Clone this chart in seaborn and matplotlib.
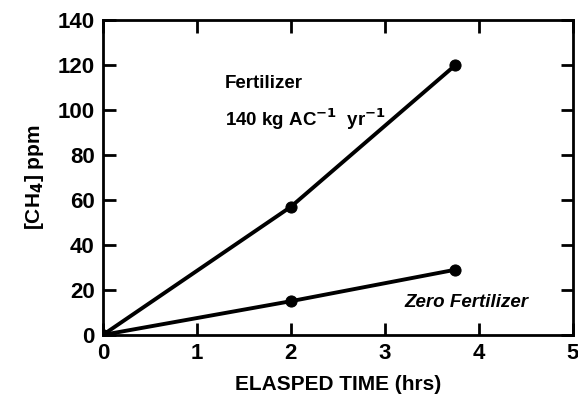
import matplotlib
matplotlib.use("Agg")
import matplotlib.pyplot as plt
import seaborn as sns
import pandas as pd

# Data
time_hrs = [0.0, 2.0, 3.75]
fertilizer_ppm = [0.0, 57.0, 120.0]
zero_fertilizer_ppm = [0.0, 15.0, 29.0]
series_names = ["Fertilizer", "Zero Fertilizer"]
x_ticks = [0, 1, 2, 3, 4, 5]
y_ticks = [0, 20, 40, 60, 80, 100, 120, 140]

df = pd.DataFrame({
    "time": time_hrs * 2,
    "ppm": fertilizer_ppm + zero_fertilizer_ppm,
    "series": [series_names[0]] * len(time_hrs) + [series_names[1]] * len(time_hrs),
})

sns.set_theme(style="ticks")
plt.rcParams["font.family"] = ["Liberation Sans", "DejaVu Sans"]
plt.rcParams["font.weight"] = "bold"
plt.rcParams["text.color"] = "black"
plt.rcParams["axes.labelcolor"] = "black"

fig = plt.figure(figsize=(5.78, 4.04), dpi=100)
ax = fig.add_axes([0.178, 0.171, 0.813, 0.779])

sns.lineplot(data=df, x="time", y="ppm", hue="series",
             palette=["black", "black"], marker="o", markersize=8,
             markeredgecolor="black", linewidth=2.8, legend=False, ax=ax)

ax.set_xlim(0, 5)
ax.set_ylim(0, 140)
ax.set_xticks(x_ticks)
ax.set_yticks(y_ticks)
ax.set_xticklabels([str(t) for t in x_ticks], fontsize=16, fontweight="bold")
ax.set_yticklabels([str(t) for t in y_ticks], fontsize=16, fontweight="bold")
ax.tick_params(direction="in", length=9, width=2, top=True, right=True,
               colors="black", labelcolor="black", pad=6)
for s in ax.spines.values():
    s.set_linewidth(2)
    s.set_color("black")

ax.set_xlabel("ELASPED TIME (hrs)", fontsize=15, fontweight="bold", labelpad=8)
ax.set_ylabel(r"[CH$_\mathbf{4}$] ppm", fontsize=15, fontweight="bold", labelpad=8)

ax.text(1.3, 112, "Fertilizer", fontsize=13.5, fontweight="bold", va="center")
ax.text(1.3, 96, r"140 kg AC$^{\mathbf{-1}}$  yr$^{\mathbf{-1}}$", fontsize=13.5,
        fontweight="bold", va="center")
ax.text(3.21, 14.5, "Zero Fertilizer", fontsize=13.5, fontweight="bold",
        va="center", style="italic")

fig.savefig("out.png", dpi=100)
